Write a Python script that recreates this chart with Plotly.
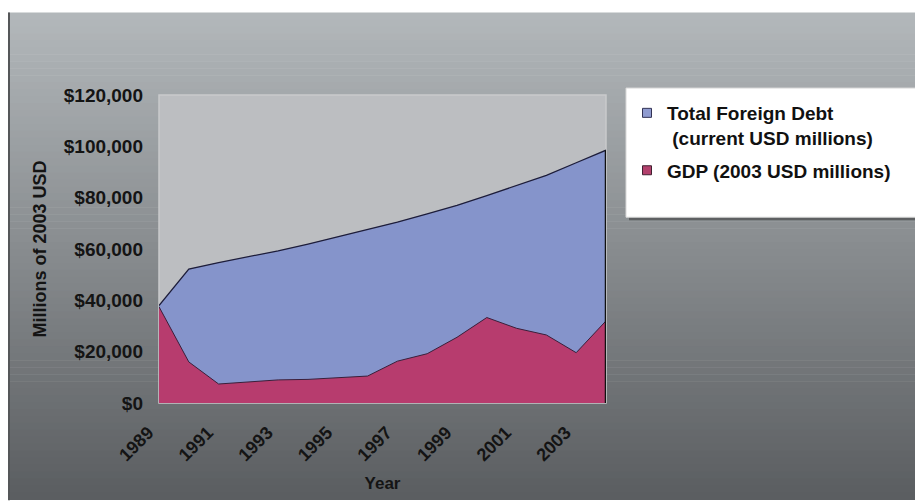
import plotly.graph_objects as go

# ---- data ----
years = list(range(1989, 2005))
total_foreign_debt = [38000, 52200, 54700, 57000, 59300, 61900, 64700, 67600,
                      70500, 73700, 77000, 80800, 84600, 88700, 93600, 98500]
gdp = [37500, 16000, 7400, 8100, 9000, 9200, 9900, 10500,
       16300, 19200, 25600, 33300, 29100, 26500, 19600, 32000]
x_tick_years = list(range(1989, 2004, 2))
y_ticks = list(range(0, 120001, 20000))
y_tick_text = ["$" + format(v, ",") for v in y_ticks]
x_tick_text = [str(v) + "\u00a0\u00a0\u00a0" for v in x_tick_years]
debt_name = "Total Foreign Debt<br>\u00a0(current USD millions)"
gdp_name = "GDP (2003 USD millions)"

# the page adds an 8px body margin; page coordinates are shifted by OFF
OFF = 8
W, H = 923 - OFF, 501 - OFF
PL, PR, PT, PB = 159, 606, 95, 405          # plot area in page pixels
L, R, T, B = PL - OFF, W - (PR - OFF), PT - OFF, H - (PB - OFF)
PW, PH = W - L - R, H - T - B

def px_x(p):   # page pixel -> paper x
    return (p - OFF - L) / PW

def px_y(p):   # page pixel -> paper y
    return (H - B - (p - OFF)) / PH

FONT = "Arial, Liberation Sans, sans-serif"
DEBT_C = "#8594cb"
GDP_C = "#b73c6e"
EDGE = "#1d1d3a"
TXT = "#141414"

fig = go.Figure()
fig.add_trace(go.Scatter(x=years, y=total_foreign_debt, mode="lines",
                         fill="tozeroy", fillcolor=DEBT_C,
                         line=dict(color=EDGE, width=1.3), showlegend=False,
                         hoverinfo="skip"))
fig.add_trace(go.Scatter(x=years, y=gdp, mode="lines",
                         fill="tozeroy", fillcolor=GDP_C,
                         line=dict(color="#3a1f3a", width=1.0), showlegend=False,
                         hoverinfo="skip"))
# right edge of the area
fig.add_trace(go.Scatter(x=[years[-1], years[-1]], y=[0, total_foreign_debt[-1]],
                         mode="lines", line=dict(color="#111111", width=2.5),
                         showlegend=False, hoverinfo="skip"))
# legend entries
fig.add_trace(go.Scatter(x=[None], y=[None], mode="markers", name=debt_name,
                         legendgroup="a",
                         marker=dict(symbol="square", size=9, color="#8f9bd0",
                                     line=dict(color="#333355", width=1))))
fig.add_trace(go.Scatter(x=[None], y=[None], mode="markers", name=gdp_name,
                         legendgroup="b",
                         marker=dict(symbol="square", size=9, color="#b2406c",
                                     line=dict(color="#402030", width=1))))

shapes = []
# gradient background
top_c = (0xb3, 0xb8, 0xbb)
bot_c = (0x5a, 0x5d, 0x60)
y_start, y_end = 12, 502
n = 70
for i in range(n):
    a = y_start + (y_end - y_start) * i / n
    b = y_start + (y_end - y_start) * (i + 1) / n
    t = (i + 0.5) / n
    c = tuple(int(round(top_c[k] + (bot_c[k] - top_c[k]) * t)) for k in range(3))
    shapes.append(dict(type="rect", xref="paper", yref="paper",
                       x0=px_x(8), x1=px_x(925), y0=px_y(b + 0.6), y1=px_y(a),
                       fillcolor="rgb(%d,%d,%d)" % c, line=dict(width=0),
                       layer="below"))
# left dark border
shapes.append(dict(type="rect", xref="paper", yref="paper",
                   x0=px_x(8), x1=px_x(10), y0=px_y(503), y1=px_y(12),
                   fillcolor="#555759", line=dict(width=0), layer="below"))
# plot area background
shapes.append(dict(type="rect", xref="paper", yref="paper",
                   x0=0, x1=1, y0=0, y1=1,
                   fillcolor="#bcbec1", line=dict(color="#c9cacc", width=1.5),
                   layer="below"))
# legend box shadow + box
shapes.append(dict(type="rect", xref="paper", yref="paper",
                   x0=px_x(629), x1=px_x(922), y0=px_y(221), y1=px_y(92),
                   fillcolor="#5e6062", line=dict(width=0), layer="below"))
shapes.append(dict(type="rect", xref="paper", yref="paper",
                   x0=px_x(626), x1=px_x(920), y0=px_y(218), y1=px_y(88),
                   fillcolor="#ffffff", line=dict(color="#d8d8d8", width=1),
                   layer="below"))

fig.update_layout(
    width=W, height=H,
    margin=dict(l=L, r=R, t=T, b=B, pad=0),
    paper_bgcolor="#ffffff",
    plot_bgcolor="rgba(0,0,0,0)",
    shapes=shapes,
    font=dict(family=FONT, color=TXT, size=17, weight="bold"),
    showlegend=True,
    legend=dict(x=px_x(627), y=px_y(94), xanchor="left", yanchor="top",
                bgcolor="rgba(0,0,0,0)", borderwidth=0,
                font=dict(family=FONT, size=19, color="#111111", weight="bold"),
                valign="top", tracegroupgap=5, itemclick=False),
    xaxis=dict(range=[years[0], years[-1]], tickvals=x_tick_years,
               ticktext=x_tick_text, tickangle=-45,
               showgrid=False, zeroline=False, showline=False, ticks="",
               ticklabelstandoff=4,
               tickfont=dict(family=FONT, size=18, color=TXT, weight="bold"),
               title=dict(text="Year", standoff=12,
                          font=dict(family=FONT, size=17, color=TXT, weight="bold"))),
    yaxis=dict(range=[0, 120000], tickvals=y_ticks, ticktext=y_tick_text,
               showgrid=False, zeroline=False,
               showline=False, ticks="", ticklabelstandoff=15,
               tickfont=dict(family=FONT, size=19, color=TXT, weight="bold"),
               title=dict(text="Millions of 2003 USD", standoff=12,
                          font=dict(family=FONT, size=18, color=TXT, weight="bold"))),
)

fig.write_html("out.html")
